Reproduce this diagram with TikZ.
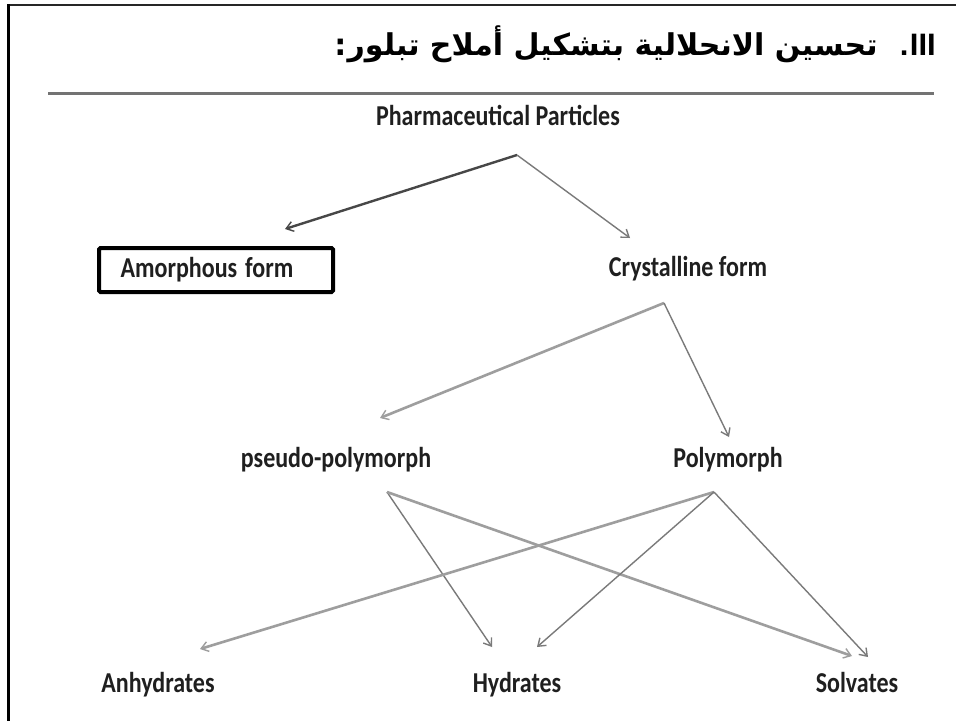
\documentclass[tikz,border=0pt]{standalone}
\usepackage{fontspec}
\usepackage{graphicx}
\setmainfont{Carlito}
\newfontfamily\arabicfont[Script=Arabic]{DejaVu Sans}
\newfontfamily\latinfont{Liberation Sans}
\TeXXeTstate=1
\usetikzlibrary{arrows.meta}
\newcommand\tallt[1]{\scalebox{1}[1.2]{#1}}
\tikzset{
  lbl/.style={font=\fontsize{24}{28}\selectfont\bfseries, text=black!88, inner sep=0pt, anchor=base},
  tw/.style={font=\fontsize{30}{36}\selectfont\arabicfont\bfseries, text=black, inner sep=0pt, anchor=base east},
  twl/.style={font=\fontsize{31}{36}\selectfont\latinfont\bfseries, text=black, inner sep=0pt, anchor=base east},
  tipA/.style={-{Straight Barb[length=7pt,width=10pt,line width=1.4pt]}},
  thinarr/.style={tipA, draw=black!52, line width=1.4pt},
  thickarr/.style={tipA, draw=black!38, line width=2.6pt},
  darkarr/.style={tipA, draw=black!72, line width=2.4pt},
  boxst/.style={draw=black, line width=4pt, rounded corners=1.5pt, minimum width=234pt, minimum height=44pt, inner sep=0pt}
}
\begin{document}
\begin{tikzpicture}[x=1pt,y=-1pt]
\useasboundingbox (0,0) rectangle (956,721);
\fill[white] (0,0) rectangle (956,721);
% frame
\draw[line width=2.2pt, black!85] (7,5) -- (956,5);
\draw[line width=3pt, black] (8,4) -- (8,721);
% rule
\draw[line width=3pt, black!55] (48,93) -- (934,93);
% title, set word by word from right to left
\node[twl] (t0) at (936,55) {III};
\node[twl] (t0d) at ([xshift=-1pt]t0.base west) {.};
\node[tw] (t1) at ([xshift=-22pt]t0d.base west) {تحسين};
\node[tw] (t2) at ([xshift=-10pt]t1.base west) {الانحلالية};
\node[tw] (t3) at ([xshift=-10pt]t2.base west) {بتشكيل};
\node[tw] (t4) at ([xshift=-10pt]t3.base west) {أملاح};
\node[tw] (t5) at ([xshift=-10pt]t4.base west) {تبلور};
\node[tw] (t6) at ([xshift=-1pt]t5.base west) {:};
% labels
\node[lbl] (pp) at (498,125) {\tallt{Pharmaceutical Particles}};
\node[boxst] (amb) at (216,270) {};
\node[lbl] (am) at (207,277) {\tallt{Amorphous\hspace{8pt}form}};
\node[lbl] (cr) at (688,276) {\tallt{Crystalline form}};
\node[lbl] (ps) at (336,467) {\tallt{pseudo-polymorph}};
\node[lbl] (po) at (728,467) {\tallt{Polymorph}};
\node[lbl] (an) at (158,692) {\tallt{Anhydrates}};
\node[lbl] (hy) at (517,692) {\tallt{Hydrates}};
\node[lbl] (so) at (857,692) {\tallt{Solvates}};
% connector ends
\coordinate (ppo) at (517,155);
\coordinate (amt) at (285,229);
\coordinate (crt) at (630,238);
\coordinate (cro) at (664,303);
\coordinate (pst) at (380,418);
\coordinate (pot) at (729,437);
\coordinate (pso) at (387,492);
\coordinate (poo) at (714,492);
\coordinate (ant) at (200,649);
\coordinate (hyta) at (492,647);
\coordinate (hytb) at (537,647);
\coordinate (sota) at (852,656);
\coordinate (sotb) at (868,657);
% connectors
\draw[darkarr] (ppo) -- (amt);
\draw[thinarr] (ppo) -- (crt);
\draw[thickarr] (cro) -- (pst);
\draw[thinarr] (cro) -- (pot);
\draw[thinarr] (pso) -- (hyta);
\draw[thickarr] (pso) -- (sota);
\draw[thickarr] (poo) -- (ant);
\draw[thinarr] (poo) -- (hytb);
\draw[thinarr] (poo) -- (sotb);
\end{tikzpicture}
\end{document}
